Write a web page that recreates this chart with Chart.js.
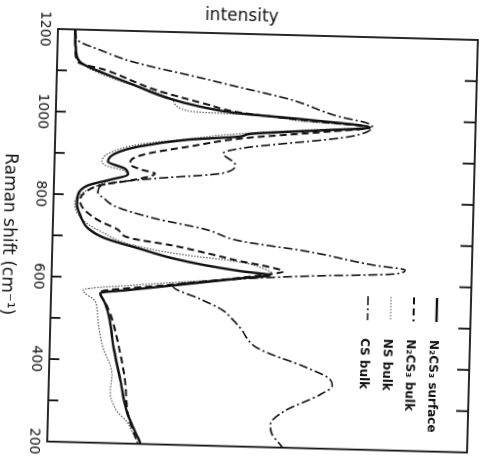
<!DOCTYPE html>
<html>
<head>
<meta charset="utf-8">
<title>Raman spectra</title>
<script src="https://cdn.jsdelivr.net/npm/chart.js"></script>
<style>
  html, body { margin: 0; padding: 0; width: 480px; height: 460px; overflow: hidden; background: #fff; }
  /* the figure is printed turned a quarter (plus a little) clockwise */
  #turn { position: absolute; left: 0; top: 0; width: 460px; height: 480px; transform-origin: 0 0; }
  #turn canvas { display: block; }
</style>
</head>
<body>
<div id="turn"><canvas id="raman" width="460" height="480"></canvas></div>
<script>
'use strict';

// ─── DATA ─────────────────────────────────────────────────────────────────
// Raman shift in cm-1, intensity in arbitrary units (0..100 = full frame)
const shiftLabels = [1200, 1000, 800, 600, 400, 200];
const seriesNames = ['N₂CS₃ surface', 'N₂CS₃ bulk', 'NS bulk', 'CS bulk'];

const surfaceShift = [1200, 1150, 1121, 1099, 1070, 1040, 1021, 1008, 996, 981, 970, 958, 951, 940, 920, 902, 882, 866, 852, 838,
  823, 800, 776, 752, 719, 696, 674, 652, 637, 625, 617, 608, 587, 572, 563, 539, 495, 438, 359, 277, 239, 203, 200];
const surfaceInt = [4.1, 4.4, 5.5, 10.3, 18.2, 26.4, 34.3, 42.7, 59.9, 74.9, 61.8, 46.4, 44.0, 31.6, 19.8, 14.4, 12.7, 16.8, 17.6, 13.3,
  8.1, 5.8, 5.6, 6.4, 8.4, 12.5, 20.4, 28.6, 36.5, 44.9, 52.0, 45.4, 29.7, 18.3, 11.7, 12.9, 14.2, 15.1, 16.9, 18.8, 20.4, 22.1, 22.2];

const bulkShift = [1200, 1150, 1121, 1104, 1059, 1028, 1009, 994, 981, 969, 946, 923, 904, 889, 877, 864, 856, 840, 824, 806, 788,
  765, 737, 719, 698, 683, 662, 649, 638, 627, 616, 607, 586, 565, 536, 500, 453, 356, 268, 212, 200];
const bulkInt = [4.1, 4.3, 5.0, 11.4, 23.5, 35.5, 43.9, 59.9, 74.9, 65.4, 44.0, 31.7, 22.2, 18.4, 18.0, 20.9, 24.0, 19.3, 11.0, 7.5, 6.3,
  7.3, 11.2, 15.3, 18.5, 28.5, 38.8, 44.8, 51.2, 55.1, 49.6, 43.7, 27.1, 11.6, 13.2, 14.7, 16.0, 18.1, 19.1, 21.1, 21.5];

const nsShift = [1200, 1138, 1108, 1076, 1054, 1036, 1011, 1007, 1005, 991, 983, 970, 958, 942, 925, 901, 882, 870, 863, 851,
  839, 826, 804, 783, 752, 729, 713, 683, 662, 647, 631, 620, 608, 588, 569, 543, 500, 437, 366, 324, 277, 252, 229, 205, 200];
const nsInt = [4.1, 4.7, 7.4, 15.6, 23.5, 27.6, 31.0, 35.5, 43.9, 59.9, 74.4, 58.3, 44.0, 31.6, 19.8, 12.7, 11.3, 12.8, 16.1, 17.3,
  13.8, 11.0, 6.7, 5.1, 5.9, 8.4, 11.3, 18.5, 30.5, 44.8, 50.8, 52.5, 44.9, 23.5, 7.6, 10.5, 11.3, 12.5, 15.0, 14.7, 16.5, 18.9, 20.1, 21.4, 21.6];

const csShift = [1200, 1174, 1152, 1125, 1091, 1070, 1044, 1005, 993, 983, 958, 922, 909, 883, 861, 844, 832, 819, 807, 790,
  774, 747, 724, 698, 677, 648, 638, 628, 617, 606, 584, 555, 530, 508, 488, 440, 395, 372, 353, 331, 287, 255, 231, 207, 200];
const csInt = [4.1, 4.8, 10.1, 18.1, 34.1, 43.7, 55.7, 67.7, 73.7, 75.4, 70.2, 44.1, 40.1, 43.0, 40.0, 24.0, 14.5, 10.8, 10.5, 12.3,
  14.7, 24.3, 36.3, 44.7, 60.7, 76.5, 84.1, 81.8, 60.8, 44.9, 29.0, 35.5, 40.8, 43.3, 45.2, 49.4, 61.4, 66.5, 67.5, 64.7, 56.0, 53.0, 53.5, 55.5, 56.0];

// ─── HELPERS ──────────────────────────────────────────────────────────────
const FONT = "'DejaVu Sans', 'Liberation Sans', sans-serif";
const INK = '#111';
const TILT = 91.5; // degrees, page turned clockwise

function pts(shift, inten) {
  return shift.map((s, i) => ({ x: s, y: inten[i] }));
}

function line(label, data, color, width, dash) {
  return {
    label, data,
    borderColor: color, borderWidth: width, borderDash: dash,
    showLine: true, fill: false, pointRadius: 0, pointHoverRadius: 0,
    cubicInterpolationMode: 'monotone',
  };
}

// frame + inward tick marks on both long edges
const framePlugin = {
  id: 'frame',
  afterDraw(chart) {
    const { ctx, chartArea: a, scales: { x } } = chart;
    ctx.save();
    ctx.strokeStyle = INK;
    ctx.lineWidth = 1.8;
    ctx.setLineDash([]);
    ctx.strokeRect(a.left, a.top, a.right - a.left, a.bottom - a.top);
    ctx.beginPath();
    x.ticks.forEach(t => {
      if (t.value <= x.min || t.value >= x.max) return;
      const px = x.getPixelForValue(t.value);
      ctx.moveTo(px, a.bottom); ctx.lineTo(px, a.bottom - 10);
      ctx.moveTo(px, a.top);    ctx.lineTo(px, a.top + 12);
    });
    ctx.stroke();
    ctx.restore();
  },
};

// small key inside the frame, one row per dataset
const keyPlugin = {
  id: 'key',
  afterDraw(chart) {
    const { ctx, chartArea: a } = chart;
    ctx.save();
    chart.data.datasets.forEach((ds, i) => {
      const y = a.top + 34 + i * 23;
      ctx.strokeStyle = ds.borderColor;
      ctx.lineWidth = ds.borderWidth;
      ctx.setLineDash(ds.borderDash);
      ctx.beginPath();
      ctx.moveTo(a.left + 259, y);
      ctx.lineTo(a.left + 283, y);
      ctx.stroke();
      ctx.setLineDash([]);
      ctx.fillStyle = INK;
      ctx.font = 'bold 12px ' + FONT;
      ctx.textBaseline = 'middle';
      ctx.textAlign = 'left';
      ctx.fillText(ds.label, a.left + 301, y + 3);
    });
    ctx.restore();
  },
};

// turn the whole canvas so the frame corner lands where the print has it
function placeTurn(chart) {
  const a = chart.chartArea;
  const r = TILT * Math.PI / 180;
  const c = Math.cos(r), s = Math.sin(r);
  const tx = 58 - (a.left * c - a.bottom * s);
  const ty = 29 - (a.left * s + a.bottom * c);
  document.getElementById('turn').style.transform =
    'translate(' + tx.toFixed(2) + 'px,' + ty.toFixed(2) + 'px) rotate(' + TILT + 'deg)';
}

// ─── CHART ────────────────────────────────────────────────────────────────
Chart.defaults.font.family = FONT;
Chart.defaults.color = INK;

const chart = new Chart(document.getElementById('raman'), {
  type: 'scatter',
  data: {
    datasets: [
      line(seriesNames[0], pts(surfaceShift, surfaceInt), INK, 2.4, []),
      line(seriesNames[1], pts(bulkShift, bulkInt), INK, 2, [7, 4]),
      line(seriesNames[2], pts(nsShift, nsInt), '#555', 1.2, [1.5, 1.5]),
      line(seriesNames[3], pts(csShift, csInt), INK, 1.6, [9, 3, 2, 3]),
    ],
  },
  options: {
    responsive: false,
    animation: false,
    events: [],
    layout: { padding: { top: 2, right: 17, bottom: 5, left: 0 } },
    plugins: {
      legend: { display: false },
      tooltip: { enabled: false },
      title: {
        display: true,
        position: 'left',
        text: 'intensity',
        color: INK,
        font: { size: 17, weight: 'normal', lineHeight: 1 },
        padding: { top: 3, bottom: 9 },
      },
    },
    scales: {
      x: {
        type: 'linear',
        reverse: true,
        min: 200,
        max: 1200,
        grid: { display: false, drawTicks: false },
        border: { display: false },
        ticks: {
          stepSize: 100,
          autoSkip: false,
          maxRotation: 0,
          padding: 5,
          color: INK,
          font: { size: 14 },
          callback: v => (shiftLabels.includes(v) ? String(v) : ''),
        },
        title: {
          display: true,
          text: 'Raman shift (cm⁻¹)',
          color: INK,
          font: { size: 17, lineHeight: 1 },
          padding: { top: 0, bottom: 0 },
        },
        afterFit: s => { s.height = 53; },
      },
      y: { type: 'linear', min: 0, max: 100, display: false },
    },
  },
  plugins: [framePlugin, keyPlugin],
});

placeTurn(chart);
</script>
</body>
</html>
